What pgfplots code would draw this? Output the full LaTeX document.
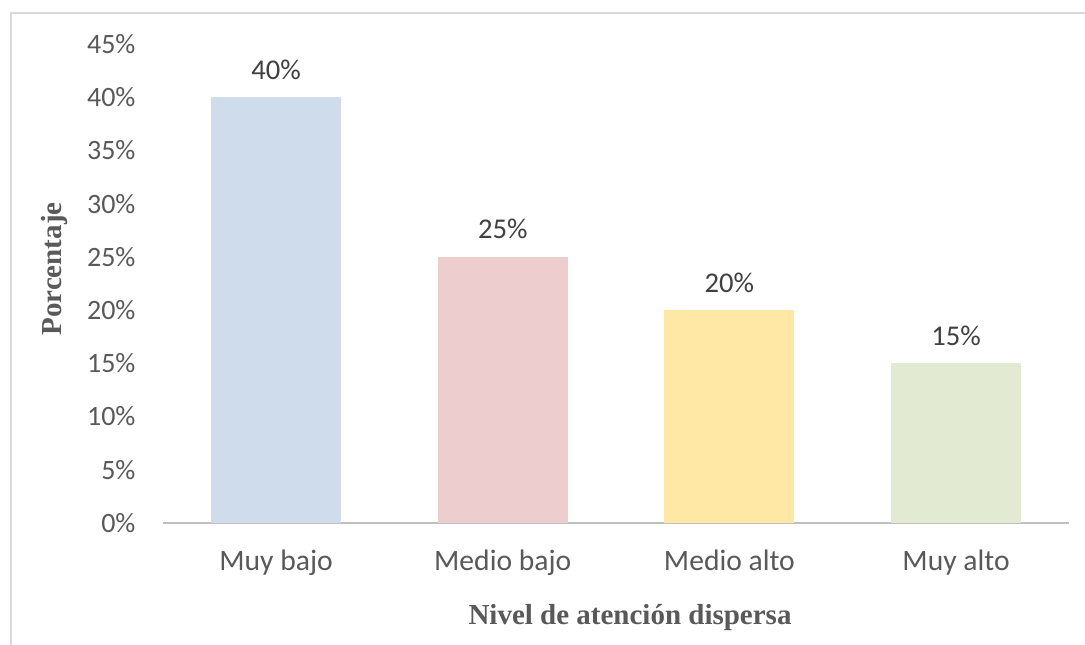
\documentclass[border=0pt]{standalone}
\usepackage{pgfplots}
\pgfplotsset{compat=1.18}
\usepackage{fontspec}
\setmainfont{Carlito}
\newfontfamily\titlefont{Liberation Serif}
\definecolor{cBlue}{HTML}{CFDCEC}
\definecolor{cPink}{HTML}{EECDCF}
\definecolor{cYellow}{HTML}{FFE8A5}
\definecolor{cGreen}{HTML}{E2EBD2}
\definecolor{frameC}{HTML}{D9D9D9}
\definecolor{axisC}{HTML}{BFBFBF}
\definecolor{tickC}{HTML}{595959}
\definecolor{labelC}{HTML}{404040}
\begin{document}
\begin{tikzpicture}[x=1bp,y=1bp]
\path[use as bounding box] (0,0) rectangle (1085,645);
\fill[white] (0,0) rectangle (1085,645);
\draw[color=frameC, line width=1.5bp] (11,-5) -- (11,632) -- (1090,632);
\begin{axis}[
  at={(162.7bp,122bp)}, anchor=south west,
  width=906.7bp, height=479bp, scale only axis,
  xmin=-0.5, xmax=3.5, ymin=0, ymax=45,
  /pgf/number format/assume math mode=true,
  ytick={0,5,10,15,20,25,30,35,40,45},
  yticklabel={\pgfmathprintnumber{\tick}\%},
  xtick={0,1,2,3},
  xticklabels={Muy bajo, Medio bajo, Medio alto, Muy alto},
  axis x line*=bottom, axis y line*=left,
  y axis line style={draw=none},
  x axis line style={draw=axisC, line width=2bp, -},
  major tick length=0pt,
  tick label style={text=tickC},
  yticklabel style={font=\fontsize{28bp}{34bp}\selectfont, anchor=east, inner sep=0pt, xshift=-27bp},
  xticklabel style={font=\fontsize{29.6bp}{34bp}\selectfont, anchor=base, inner sep=0pt, yshift=-48bp},
  ybar, bar width=130bp, bar shift=0pt,
  nodes near coords={\pgfmathprintnumber{\pgfplotspointmeta}\%},
  every node near coord/.append style={font=\fontsize{28.6bp}{34bp}\selectfont, text=labelC, anchor=base, inner sep=0pt, yshift=18bp},
  xlabel={Nivel de atención dispersa},
  ylabel={Porcentaje},
  xlabel style={at={(axis description cs:0.5154,-0.2129)}, anchor=base, inner sep=0pt, font=\titlefont\bfseries\fontsize{29bp}{34bp}\selectfont, text=tickC},
  ylabel style={at={(axis description cs:-0.1111,0.5303)}, anchor=base, inner sep=0pt, font=\titlefont\bfseries\fontsize{29bp}{34bp}\selectfont, text=tickC},
  clip=false,
]
\addplot[fill=cBlue, draw=none] coordinates {(0,40)};
\addplot[fill=cPink, draw=none] coordinates {(1,25)};
\addplot[fill=cYellow, draw=none] coordinates {(2,20)};
\addplot[fill=cGreen, draw=none] coordinates {(3,15)};
\end{axis}
\end{tikzpicture}
\end{document}
